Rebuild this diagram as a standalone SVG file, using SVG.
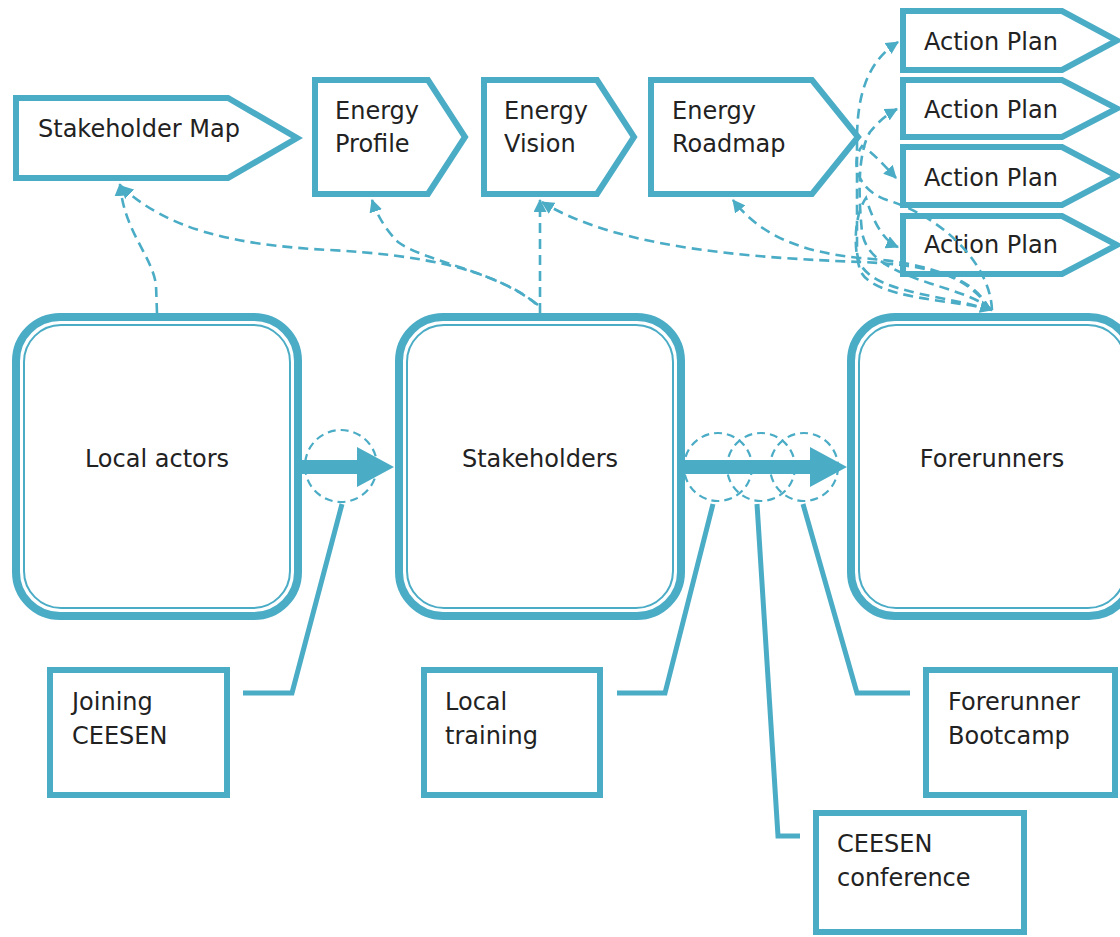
<svg xmlns="http://www.w3.org/2000/svg" width="1120" height="937" viewBox="0 0 1120 937">
<style>
  .t{font-family:"DejaVu Sans","Liberation Sans",sans-serif;font-size:24px;fill:#222}
  .tc{text-anchor:middle}
  .shape{fill:#fff;stroke:#4BACC6;stroke-width:6;stroke-linejoin:miter}
  .rb{fill:#fff;stroke:#4BACC6;stroke-width:8}
  .rbi{fill:none;stroke:#4BACC6;stroke-width:2}
  .dash{fill:none;stroke:#4BACC6;stroke-width:2.6;stroke-dasharray:10 6}
  .circ{fill:none;stroke:#4BACC6;stroke-width:2.2;stroke-dasharray:8 5}
  .call{fill:none;stroke:#4BACC6;stroke-width:5;stroke-linejoin:miter}
  .big{fill:#4BACC6}
</style>
<defs>
  <marker id="ah" viewBox="0 0 12 12" markerWidth="13" markerHeight="13" refX="11" refY="6" orient="auto" markerUnits="userSpaceOnUse">
    <path d="M0,0 L12,6 L0,12 z" fill="#4BACC6"/>
  </marker>
  <marker id="ahs" viewBox="0 0 12 12" markerWidth="13" markerHeight="13" refX="11" refY="6" orient="auto-start-reverse" markerUnits="userSpaceOnUse">
    <path d="M0,0 L12,6 L0,12 z" fill="#4BACC6"/>
  </marker>
</defs>
<rect width="1120" height="937" fill="#fff"/>

<g id="stakeholder-map">
  <polygon class="shape" points="16,98 228,98 297,138 228,178 16,178"/>
  <text class="t" x="38" y="137">Stakeholder Map</text>
</g>
<g id="energy-profile">
  <polygon class="shape" points="315,80 428,80 465,137 428,194 315,194"/>
  <text class="t" x="335" y="119">Energy</text>
  <text class="t" x="335" y="152">Profile</text>
</g>
<g id="energy-vision">
  <polygon class="shape" points="484,80 597,80 634,137 597,194 484,194"/>
  <text class="t" x="504" y="119">Energy</text>
  <text class="t" x="504" y="152">Vision</text>
</g>
<g id="energy-roadmap">
  <polygon class="shape" points="651,80 812,80 858,137 812,194 651,194"/>
  <text class="t" x="672" y="119">Energy</text>
  <text class="t" x="672" y="152">Roadmap</text>
</g>
<g id="action-plan-1">
  <polygon class="shape" points="903,11 1062,11 1117,40.5 1062,70 903,70"/>
  <text class="t" x="924" y="50">Action Plan</text>
</g>
<g id="action-plan-2">
  <polygon class="shape" points="903,80 1062,80 1117,108.5 1062,137 903,137"/>
  <text class="t" x="924" y="118">Action Plan</text>
</g>
<g id="action-plan-3">
  <polygon class="shape" points="903,147 1062,147 1117,176 1062,205 903,205"/>
  <text class="t" x="924" y="186">Action Plan</text>
</g>
<g id="action-plan-4">
  <polygon class="shape" points="903,216 1062,216 1117,245 1062,274 903,274"/>
  <text class="t" x="924" y="253">Action Plan</text>
</g>

<g id="local-actors">
  <rect class="rb" x="16" y="317" width="282" height="299" rx="44"/>
  <rect class="rbi" x="24" y="325" width="266" height="283" rx="37"/>
  <text class="t tc" x="157" y="467">Local actors</text>
</g>
<g id="stakeholders">
  <rect class="rb" x="399" y="317" width="282" height="299" rx="44"/>
  <rect class="rbi" x="407" y="325" width="266" height="283" rx="37"/>
  <text class="t tc" x="540" y="467">Stakeholders</text>
</g>
<g id="forerunners">
  <rect class="rb" x="851" y="317" width="282" height="299" rx="44"/>
  <rect class="rbi" x="859" y="325" width="266" height="283" rx="37"/>
  <text class="t tc" x="992" y="467">Forerunners</text>
</g>

<g id="joining-ceesen">
  <rect class="shape" x="50" y="670" width="177" height="125"/>
  <text class="t" x="72" y="710">Joining</text>
  <text class="t" x="72" y="744">CEESEN</text>
</g>
<g id="local-training">
  <rect class="shape" x="424" y="670" width="176" height="125"/>
  <text class="t" x="445" y="710">Local</text>
  <text class="t" x="445" y="744">training</text>
</g>
<g id="forerunner-bootcamp">
  <rect class="shape" x="926" y="670" width="189" height="125"/>
  <text class="t" x="948" y="710">Forerunner</text>
  <text class="t" x="948" y="744">Bootcamp</text>
</g>
<g id="ceesen-conference">
  <rect class="shape" x="816" y="813" width="208" height="119"/>
  <text class="t" x="837" y="852">CEESEN</text>
  <text class="t" x="837" y="886">conference</text>
</g>

<g id="connectors">
  <!-- dashed links -->
  <path class="dash" marker-end="url(#ah)" d="M157,313 L156,285 C152,255 124,232 120,184"/>
  <path class="dash" marker-end="url(#ah)" d="M538,305 C490,268 420,255 330,250 C230,245 165,228 121,186"/>
  <path class="dash" marker-end="url(#ah)" d="M536,304 C500,272 425,262 398,242 C388,232 378,218 372,200"/>
  <path class="dash" marker-end="url(#ah)" d="M540,313 L540,200"/>
  <path class="dash" marker-end="url(#ah)" d="M990,310 C975,280 940,265 860,262 C760,258 620,250 542,202"/>
  <path class="dash" marker-end="url(#ah)" d="M990,310 C970,275 920,262 860,258 C800,252 760,235 733,200"/>
  <path class="dash" marker-start="url(#ahs)" marker-end="url(#ahs)" d="M898,42 C870,60 857,90 857,140 L857,250 C857,292 930,292 992,310"/>
  <path class="dash" marker-end="url(#ah)" d="M992,310 C960,282 870,282 862,232 C858,192 858,152 870,132 C878,122 886,115 897,109"/>
  <path class="dash" marker-end="url(#ah)" d="M992,310 C990,262 940,216 887,200 C857,190 850,162 862,146 C872,152 884,165 896,178"/>
  <path class="dash" marker-end="url(#ah)" d="M992,310 C960,300 872,300 860,270 C852,242 856,212 866,198 C872,218 882,240 898,247"/>

  <!-- thick flow arrows -->
  <polygon class="big" points="302,460 357,460 357,447 394,467 357,487 357,474 302,474"/>
  <polygon class="big" points="685,460 810,460 810,447 847,467 810,487 810,474 685,474"/>

  <!-- dashed circles -->
  <circle class="circ" cx="341" cy="466" r="36"/>
  <circle class="circ" cx="718" cy="467" r="34"/>
  <circle class="circ" cx="761" cy="467" r="34"/>
  <circle class="circ" cx="804" cy="467" r="34"/>

  <!-- callout lines -->
  <polyline class="call" points="342,504 292,693 243,693"/>
  <polyline class="call" points="713,504 665,693 617,693"/>
  <polyline class="call" points="757,504 778,836 800,836"/>
  <polyline class="call" points="803,504 857,693 910,693"/>
</g>
</svg>
